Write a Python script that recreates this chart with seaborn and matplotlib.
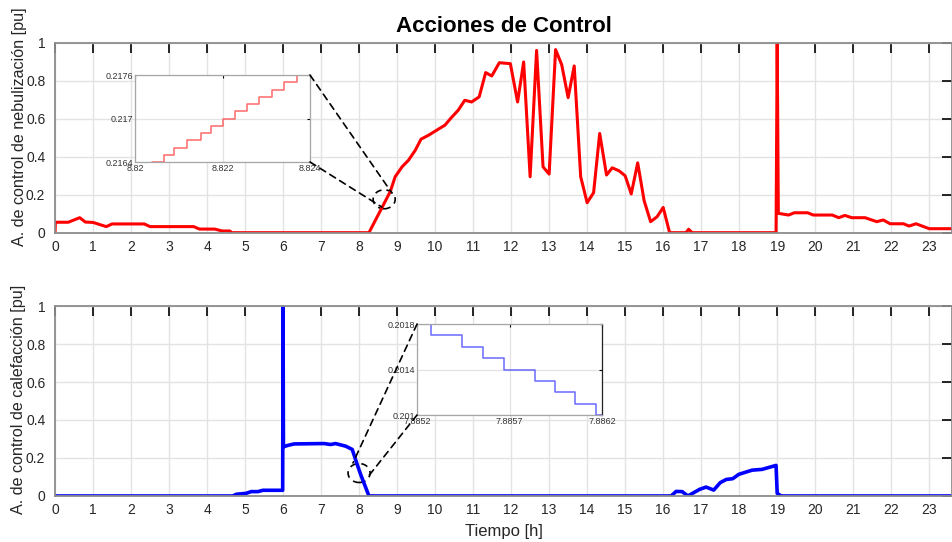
import numpy as np
import pandas as pd
import matplotlib
matplotlib.use("Agg")
import matplotlib.pyplot as plt
import seaborn as sns
from matplotlib.patches import Ellipse, ConnectionPatch
from matplotlib.ticker import FormatStrFormatter

# ---------------- data ----------------
t_neb = [0, 0.01, 0.35, 0.65, 0.8, 1.0, 1.35, 1.5, 2.35, 2.5, 3.65, 3.8, 4.2, 4.4,
         4.6, 4.65, 8.26, 8.82, 8.95, 9.13, 9.30, 9.48, 9.63, 9.83, 10.26, 10.43,
         10.61, 10.78, 10.96, 11.16, 11.33, 11.49, 11.69, 11.98, 12.17, 12.33,
         12.50, 12.67, 12.84, 13.0, 13.17, 13.33, 13.50, 13.66, 13.83, 14.0, 14.17,
         14.33, 14.51, 14.66, 14.84, 15.0, 15.16, 15.33, 15.5, 15.67, 15.84, 16.0,
         16.17, 16.6, 16.67, 16.76, 18.97, 19.0, 19.03, 19.3, 19.45, 19.8, 19.95,
         20.45, 20.62, 20.78, 20.96, 21.31, 21.62, 21.79, 21.97, 22.32, 22.47,
         22.65, 23.0, 23.6]
y_neb = [0, 0.055, 0.055, 0.079, 0.056, 0.054, 0.032, 0.046, 0.046, 0.032, 0.032,
         0.019, 0.019, 0.009, 0.009, 0, 0, 0.2165, 0.295, 0.347, 0.382, 0.435,
         0.493, 0.514, 0.567, 0.607, 0.646, 0.698, 0.689, 0.716, 0.844, 0.826,
         0.896, 0.891, 0.689, 0.90, 0.295, 0.961, 0.347, 0.309, 0.965, 0.886,
         0.712, 0.879, 0.295, 0.158, 0.211, 0.523, 0.304, 0.342, 0.326, 0.30,
         0.204, 0.368, 0.168, 0.058, 0.084, 0.133, 0.0, 0.0, 0.018, 0, 0, 1.0,
         0.102, 0.093, 0.105, 0.105, 0.093, 0.093, 0.079, 0.091, 0.079, 0.079,
         0.058, 0.067, 0.047, 0.047, 0.035, 0.047, 0.021, 0.021]

t_cal = [0, 4.68, 4.77, 5.03, 5.16, 5.34, 5.47, 5.99, 6.0, 6.01, 6.12, 6.29, 7.08,
         7.25, 7.38, 7.65, 7.82, 7.95, 8.04, 8.26, 16.21, 16.34, 16.5, 16.65,
         16.96, 17.13, 17.33, 17.5, 17.66, 17.83, 17.99, 18.18, 18.34, 18.6,
         18.97, 19.0, 19.1, 23.6]
y_cal = [0, 0, 0.009, 0.014, 0.023, 0.023, 0.03, 0.03, 1.0, 0.259, 0.266, 0.274,
         0.276, 0.271, 0.276, 0.262, 0.245, 0.166, 0.114, 0, 0, 0.024, 0.023, 0,
         0.035, 0.047, 0.031, 0.07, 0.087, 0.091, 0.114, 0.126, 0.136, 0.14,
         0.161, 0.014, 0, 0]

# zoomed detail (inset) data
ti_neb = [8.82038, 8.82066, 8.82089, 8.82118, 8.82150, 8.82173, 8.82200, 8.82229,
          8.82257, 8.82284, 8.82312, 8.82341, 8.82370, 8.82392]
yi_neb = [0.2164, 0.2165, 0.2166, 0.2167, 0.2168, 0.2169, 0.2170, 0.2171, 0.2172,
          0.2173, 0.2174, 0.2175, 0.2176, 0.2176]
ti_cal = [7.88520, 7.885277, 7.885445, 7.885557, 7.885668, 7.885836, 7.885944,
          7.886056, 7.886169, 7.8862]
yi_cal = [0.2018, 0.2017, 0.2016, 0.2015, 0.2014, 0.2013, 0.2012, 0.2011, 0.2010,
          0.2010]

xticks_main = list(range(0, 24))
yticks_main = [0, 0.2, 0.4, 0.6, 0.8, 1]
ins1_xticks = [8.82, 8.822, 8.824]
ins1_yticks = [0.2164, 0.217, 0.2176]
ins2_xticks = [7.8852, 7.8857, 7.8862]
ins2_yticks = [0.201, 0.2014, 0.2018]

title = "Acciones de Control"
ylab1 = "A. de control de nebulización [pu]"
ylab2 = "A. de control de calefacción [pu]"
xlab = "Tiempo [h]"

assert len(t_neb) == len(y_neb) and len(t_cal) == len(y_cal)

df_neb = pd.DataFrame({"t": t_neb, "u": y_neb})
df_cal = pd.DataFrame({"t": t_cal, "u": y_cal})
dfi_neb = pd.DataFrame({"t": ti_neb, "u": yi_neb})
dfi_cal = pd.DataFrame({"t": ti_cal, "u": yi_cal})

# ---------------- style ----------------
sns.set_style("white")
plt.rcParams["font.family"] = ["Liberation Sans", "DejaVu Sans"]

fig = plt.figure(figsize=(9.53, 5.42), dpi=100)
ax1 = fig.add_axes([0.0577, 0.5707, 0.9413, 0.35])
ax2 = fig.add_axes([0.0577, 0.0849, 0.9413, 0.3505])

TXT = "#262626"


def style_main(ax):
    ax.set_xlim(0, 23.6)
    ax.set_ylim(0, 1)
    ax.set_xticks(xticks_main)
    ax.set_yticks(yticks_main)
    ax.yaxis.set_major_formatter(FormatStrFormatter("%g"))
    ax.grid(True, color="#e3e3e3", lw=1.0)
    ax.set_axisbelow(True)
    ax.tick_params(direction="in", length=7, width=1.2, top=True, right=True,
                   colors="black", labelcolor=TXT, labelsize=10)
    ax.tick_params(axis="x", pad=5)
    ax.tick_params(axis="y", pad=7)
    for s in ax.spines.values():
        s.set_color("#8c8c8c")
        s.set_linewidth(1.3)
    ax.set_xlabel("")
    ax.set_ylabel("")


sns.lineplot(data=df_neb, x="t", y="u", ax=ax1, color="#ff0000", lw=2.2,
             estimator=None, sort=False)
sns.lineplot(data=df_cal, x="t", y="u", ax=ax2, color="#0000ff", lw=2.6,
             estimator=None, sort=False)
style_main(ax1)
style_main(ax2)

ax1.set_title(title, fontsize=16, fontweight="bold", color="black", pad=8)
ax1.set_ylabel(ylab1, fontsize=11.6, color=TXT)
ax2.set_ylabel(ylab2, fontsize=11.6, color=TXT)
ax1.yaxis.set_label_coords(-0.031, 0.56)
ax2.yaxis.set_label_coords(-0.032, 0.51)
ax2.set_xlabel(xlab, fontsize=12, color=TXT, labelpad=5)

# ---------------- insets ----------------
ins1 = fig.add_axes([0.1417, 0.7011, 0.1836, 0.1605])
ins2 = fig.add_axes([0.4376, 0.2343, 0.1941, 0.1679])


def style_inset(ax, xt, yt):
    ax.set_facecolor("white")
    ax.set_xlim(xt[0], xt[-1])
    ax.set_ylim(yt[0], yt[-1])
    ax.set_xticks(xt)
    ax.set_yticks(yt)
    ax.xaxis.set_major_formatter(FormatStrFormatter("%g"))
    ax.yaxis.set_major_formatter(FormatStrFormatter("%g"))
    ax.grid(True, color="#e3e3e3", lw=0.9)
    ax.set_axisbelow(True)
    ax.tick_params(direction="in", length=2.5, width=0.8, top=True, right=True,
                   colors="black", labelcolor="#333333", labelsize=6.5, pad=1.5)
    for s in ax.spines.values():
        s.set_color("#a6a6a6")
        s.set_linewidth(0.9)
    ax.set_xlabel("")
    ax.set_ylabel("")


sns.lineplot(data=dfi_neb, x="t", y="u", ax=ins1, color="#ff5050", lw=1.1,
             alpha=0.85, estimator=None, sort=False, drawstyle="steps-post")
sns.lineplot(data=dfi_cal, x="t", y="u", ax=ins2, color="#5050ff", lw=1.1,
             alpha=0.85, estimator=None, sort=False, drawstyle="steps-post")
style_inset(ins1, ins1_xticks, ins1_yticks)
style_inset(ins2, ins2_xticks, ins2_yticks)
ins2.spines["right"].set_color("#222222")

# ---------------- zoom markers ----------------
dash = dict(color="black", lw=1.2, ls=(0, (4, 3)))
ax1.add_patch(Ellipse((8.66, 0.176), 0.58, 0.10, fill=False, **dash))
ax2.add_patch(Ellipse((8.0, 0.121), 0.58, 0.10, fill=False, **dash))

for (xa, ya), (xb, yb) in [((1, 1), (8.865, 0.209)), ((1, 0), (8.60, 0.135))]:
    fig.add_artist(ConnectionPatch(xyA=(xa, ya), coordsA=ins1.transAxes,
                                   xyB=(xb, yb), coordsB=ax1.transData, **dash))
for (xa, ya), (xb, yb) in [((0, 1), (7.84, 0.174)), ((0, 0), (8.21, 0.095))]:
    fig.add_artist(ConnectionPatch(xyA=(xa, ya), coordsA=ins2.transAxes,
                                   xyB=(xb, yb), coordsB=ax2.transData, **dash))

fig.savefig("out.png", dpi=100)
